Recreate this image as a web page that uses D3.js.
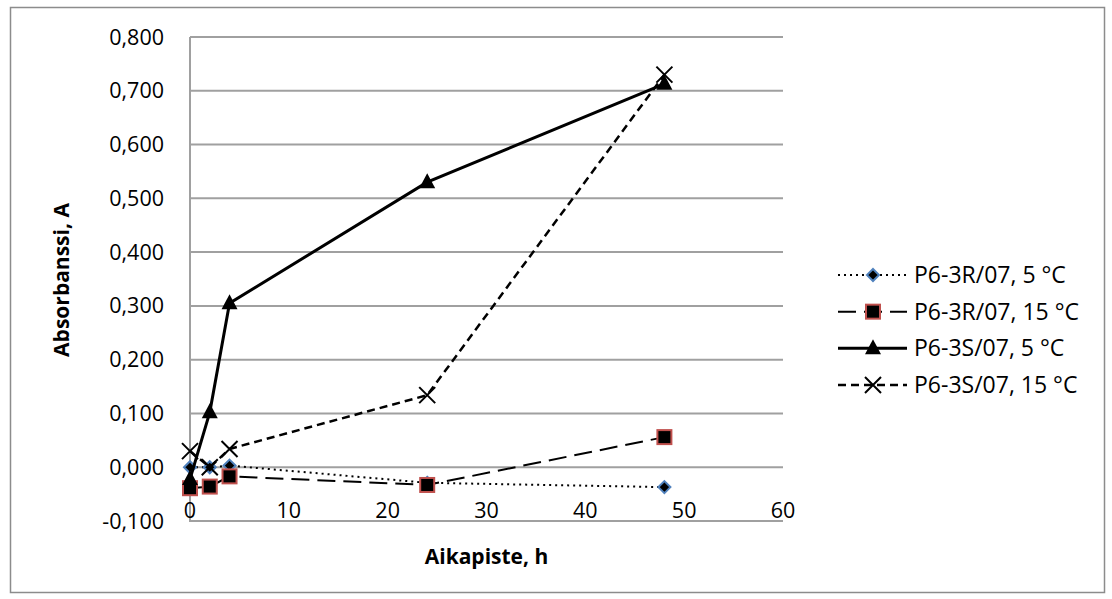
<!DOCTYPE html>
<html>
<head>
<meta charset="utf-8">
<script src="https://cdn.jsdelivr.net/npm/d3@7"></script>
<style>
  body { margin: 0; background: #fff; }
  text { font-family: "Open Sans", "Liberation Sans", sans-serif; fill: #000; }
</style>
</head>
<body>
<div id="chart"></div>
<script>
// data
var hours = [0, 2, 4, 24, 48];
var r5  = [0.000, 0.000, 0.003, -0.029, -0.037];
var r15 = [-0.039, -0.036, -0.017, -0.033, 0.056];
var s5  = [-0.022, 0.102, 0.305, 0.530, 0.713];
var s15 = [0.030, 0.000, 0.034, 0.134, 0.730];
var seriesNames = ["P6-3R/07, 5 °C", "P6-3R/07, 15 °C", "P6-3S/07, 5 °C", "P6-3S/07, 15 °C"];
var xTicks = [0, 10, 20, 30, 40, 50, 60];
var yTicks = [-0.1, 0, 0.1, 0.2, 0.3, 0.4, 0.5, 0.6, 0.7, 0.8];

var width = 1112, height = 599;
var plot = {left: 190, right: 783, top: 37, bottom: 521};

var svg = d3.select('#chart').append('svg')
  .attr('width', width)
  .attr('height', height);

// outer chart frame
svg.append('rect')
  .attr('x', 10.5).attr('y', 7.5)
  .attr('width', 1094).attr('height', 585)
  .attr('fill', '#fff')
  .attr('stroke', '#8c8c8c')
  .attr('stroke-width', 1.5);

var x = d3.scaleLinear().domain([0, 60]).range([plot.left, plot.right]);
var y = d3.scaleLinear().domain([-0.1, 0.8]).range([plot.bottom, plot.top]);
var fmt = function(v){ return d3.format('.3f')(v).replace('.', ',').replace('−', '-'); };

// gridlines
svg.append('g')
  .selectAll('line')
  .data(yTicks)
  .enter().append('line')
  .attr('x1', plot.left).attr('x2', plot.right)
  .attr('y1', function(d){ return y(d); })
  .attr('y2', function(d){ return y(d); })
  .attr('stroke', '#a0a0a0')
  .attr('stroke-width', 2);

// axis lines
svg.append('line')
  .attr('x1', plot.left).attr('x2', plot.left)
  .attr('y1', plot.top).attr('y2', plot.bottom)
  .attr('stroke', '#a0a0a0').attr('stroke-width', 2);
svg.append('line')
  .attr('x1', plot.left - 1).attr('x2', plot.right)
  .attr('y1', plot.bottom).attr('y2', plot.bottom)
  .attr('stroke', '#a0a0a0').attr('stroke-width', 2);

// y tick labels
svg.append('g')
  .selectAll('text')
  .data(yTicks)
  .enter().append('text')
  .attr('x', 164)
  .attr('y', function(d){ return y(d); })
  .attr('dy', '0.35em')
  .attr('text-anchor', 'end')
  .style('font-size', '21.5px')
  .text(fmt);

// x tick labels (sit just above the bottom axis line, like the original)
svg.append('g')
  .selectAll('text')
  .data(xTicks)
  .enter().append('text')
  .attr('x', function(d){ return x(d); })
  .attr('y', 510)
  .attr('dy', '0.35em')
  .attr('text-anchor', 'middle')
  .style('font-size', '21.5px')
  .text(function(d){ return d; });

// axis titles
svg.append('text')
  .attr('x', (plot.left + plot.right) / 2)
  .attr('y', 557)
  .attr('dy', '0.35em')
  .attr('text-anchor', 'middle')
  .style('font-size', '21px')
  .style('font-weight', 'bold')
  .text('Aikapiste, h');

svg.append('text')
  .attr('transform', 'translate(62,280) rotate(-90)')
  .attr('dy', '0.35em')
  .attr('text-anchor', 'middle')
  .style('font-size', '21px')
  .style('font-weight', 'bold')
  .text('Absorbanssi, A');

var series = [
  {name: seriesNames[0], values: r5,  dash: '2,4',  width: 2,   marker: 'diamond'},
  {name: seriesNames[1], values: r15, dash: '18,8', width: 2,   marker: 'square'},
  {name: seriesNames[2], values: s5,  dash: null,   width: 3,   marker: 'triangle'},
  {name: seriesNames[3], values: s15, dash: '8,5',  width: 2.5, marker: 'cross'}
];

var line = d3.line()
  .x(function(d){ return x(d.h); })
  .y(function(d){ return y(d.v); });

function drawMarker(sel, type, cx, cy){
  if(type === 'diamond'){
    sel.append('path')
      .attr('d', 'M' + cx + ',' + (cy - 6) + 'L' + (cx + 6) + ',' + cy + 'L' + cx + ',' + (cy + 6) + 'L' + (cx - 6) + ',' + cy + 'Z')
      .attr('fill', '#000').attr('stroke', '#4f81bd').attr('stroke-width', 2);
  }else if(type === 'square'){
    sel.append('rect')
      .attr('x', cx - 7).attr('y', cy - 7).attr('width', 14).attr('height', 14)
      .attr('fill', '#000').attr('stroke', '#c0504d').attr('stroke-width', 2);
  }else if(type === 'triangle'){
    sel.append('path')
      .attr('d', 'M' + cx + ',' + (cy - 9) + 'L' + (cx + 8) + ',' + (cy + 6) + 'L' + (cx - 8) + ',' + (cy + 6) + 'Z')
      .attr('fill', '#000');
  }else{
    sel.append('path')
      .attr('d', 'M' + (cx - 8) + ',' + (cy - 8) + 'L' + (cx + 8) + ',' + (cy + 8) + 'M' + (cx + 8) + ',' + (cy - 8) + 'L' + (cx - 8) + ',' + (cy + 8))
      .attr('fill', 'none').attr('stroke', '#000').attr('stroke-width', 2);
  }
}

series.forEach(function(s){
  var pts = hours.map(function(h, i){ return {h: h, v: s.values[i]}; });
  var g = svg.append('g');
  g.append('path')
    .datum(pts)
    .attr('d', line)
    .attr('fill', 'none')
    .attr('stroke', '#000')
    .attr('stroke-width', s.width)
    .attr('stroke-dasharray', s.dash);
  pts.forEach(function(p){
    drawMarker(g, s.marker, x(p.h), y(p.v));
  });
});

// legend
var legendY = d3.scalePoint().domain(seriesNames).range([275, 385]);
series.forEach(function(s){
  var ly = legendY(s.name);
  var g = svg.append('g');
  g.append('line')
    .attr('x1', 838).attr('x2', 907)
    .attr('y1', ly).attr('y2', ly)
    .attr('stroke', '#000')
    .attr('stroke-width', s.width)
    .attr('stroke-dasharray', s.dash);
  drawMarker(g, s.marker, 873, ly);
  g.append('text')
    .attr('x', 914)
    .attr('y', ly)
    .attr('dy', '0.35em')
    .style('font-size', '23px')
    .text(s.name);
});
</script>
</body>
</html>
